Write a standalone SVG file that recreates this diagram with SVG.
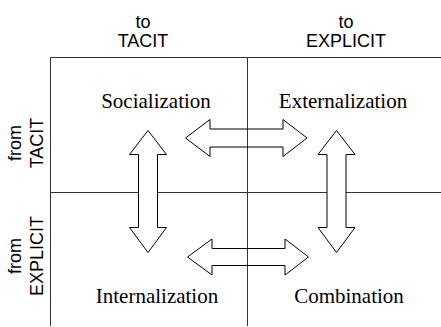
<svg xmlns="http://www.w3.org/2000/svg" width="441" height="327" viewBox="0 0 441 327">
<style>
.grid{stroke:#333;stroke-width:1;fill:none}
.arrow{stroke:#000;stroke-width:1;fill:#fff;stroke-linejoin:miter}
.arrow.open{fill:none}
.hdr{font-family:"Liberation Sans",Arial,sans-serif;font-size:18px;fill:#000;text-anchor:middle}
.mode{font-family:"Liberation Serif","Times New Roman",serif;font-size:21px;fill:#000;text-anchor:middle}
</style>
<rect width="441" height="327" fill="#fff"/>
<g id="grid">
<line class="grid" x1="50.5" y1="57.5" x2="441" y2="57.5"/>
<line class="grid" x1="50.5" y1="57.5" x2="50.5" y2="326"/>
<line class="grid" x1="50.5" y1="192.5" x2="441" y2="192.5"/>
<line class="grid" x1="247.5" y1="57.5" x2="247.5" y2="326"/>
</g>
<g id="col-tacit"><text class="hdr" x="143" y="28">to</text><text class="hdr" x="143" y="47">TACIT</text></g>
<g id="col-explicit"><text class="hdr" x="346" y="28">to</text><text class="hdr" x="346" y="47">EXPLICIT</text></g>
<g id="row-tacit"><text class="hdr" transform="translate(21,143) rotate(-90)">from</text><text class="hdr" transform="translate(43,143) rotate(-90)">TACIT</text></g>
<g id="row-explicit"><text class="hdr" transform="translate(21,256) rotate(-90)">from</text><text class="hdr" transform="translate(43,256) rotate(-90)">EXPLICIT</text></g>
<g id="socialization"><text class="mode" x="156" y="108">Socialization</text></g>
<g id="externalization"><text class="mode" x="343" y="108">Externalization</text></g>
<g id="internalization"><text class="mode" x="157" y="303">Internalization</text></g>
<g id="combination"><text class="mode" x="349" y="303">Combination</text></g>
<g id="connectors">
<path class="arrow" d="M148 130.5 L166.5 154.5 L157.5 154.5 L157.5 227.5 L166.5 227.5 L148 252.5 L129.5 227.5 L138.5 227.5 L138.5 154.5 L129.5 154.5 Z"/>
<path class="arrow" d="M336.5 130.5 L355 154.5 L346 154.5 L346 227.5 L355 227.5 L336.5 252.5 L318 227.5 L327 227.5 L327 154.5 L318 154.5 Z"/>
<path class="arrow open" d="M185.5 138 L210 119.5 L210 129 L283 129 L283 119.5 L307 138 L283 156.5 L283 147 L210 147 L210 156.5 Z"/>
<path class="arrow open" d="M187.5 257 L212 239 L212 248.5 L285 248.5 L285 239 L308.5 257 L285 275 L285 265.5 L212 265.5 L212 275 Z"/>
</g>
</svg>
